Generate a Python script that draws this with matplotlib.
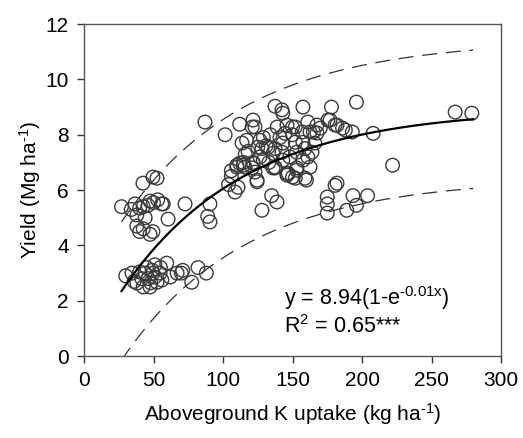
"""
K uptake vs. yield scatter with exponential fit and prediction band.
"""

import numpy as np
import matplotlib
matplotlib.use("Agg")
import matplotlib.pyplot as plt

plt.rcParams["font.family"] = ["Liberation Sans", "DejaVu Sans"]
plt.rcParams["axes.unicode_minus"] = False
plt.rcParams["mathtext.default"] = "regular"

HY = "\u2010"  # plain hyphen for superscripts (mathtext turns '-' into a minus)

k_uptake = [
    # low-K, high-yield group
    27, 36.7, 38, 40, 42.4, 49.6, 52.5, 42.6, 46, 47.5, 50, 53, 56, 57, 44,
    60.5, 72.7, 38, 42.6, 49.6, 40, 47.5, 90.6, 89, 90.6, 34,
    # low-K, low-yield group
    34.5, 40, 49, 59.5, 51, 45, 54.7, 62, 71, 70, 77.5, 82, 88, 38, 42.6,
    47.5, 52.5, 41.6, 46, 51, 56, 44, 49.6, 67, 30, 36, 55, 48,
    # main cloud
    87, 101.5, 112, 121.6, 123, 113.7, 117, 110, 114.6, 121.6, 129, 137.4,
    143, 157.5, 110.8, 108.6, 124.5, 135, 138.8, 137.4, 146, 153, 160, 128,
    142.4, 178, 196, 121, 139, 146, 152, 161, 167.6, 175.5, 182, 186, 188,
    193, 162.6, 167.6, 157, 150, 141, 134, 126.6, 125, 132.4, 137.4, 143,
    152, 157.5, 159, 166, 153, 112, 115.8, 121.6, 126.6, 129, 136, 142.4,
    143, 136, 147, 153, 159, 157.5, 162.6, 161, 123, 152, 182, 104, 106,
    116, 131, 148, 165, 170, 177, 180.6, 144.6, 150, 208, 222, 267, 279,
    110, 114.6, 121, 124.5, 137.4, 146, 150, 164, 128, 106, 118, 133,
    # lower right group
    175, 175, 175, 180.6, 189, 193.5, 196, 204,
]
yield_mg = [
    5.4, 5.5, 5.1, 5.35, 6.25, 6.47, 6.43, 5.4, 5.45, 5.6, 5.55, 5.65, 5.5,
    5.5, 5.0, 4.95, 5.5, 4.7, 4.6, 4.5, 4.5, 4.4, 5.5, 5.05, 4.85, 5.3,
    3.0, 3.04, 3.1, 3.36, 3.3, 3.2, 3.0, 2.86, 3.1, 3.0, 2.67, 3.2, 3.0,
    2.64, 2.5, 2.5, 2.67, 2.8, 2.8, 2.86, 2.75, 3.0, 3.0, 3.0, 2.9, 2.7,
    3.2, 2.65,
    8.46, 8.0, 8.38, 8.53, 8.28, 7.7, 7.8, 6.83, 6.9, 6.97, 7.9, 9.03,
    8.78, 9.0, 6.1, 5.93, 6.3, 5.8, 5.57, 6.83, 6.6, 6.72, 6.36, 5.27,
    8.9, 9.0, 9.18, 8.28, 8.28, 8.35, 8.28, 8.46, 8.35, 8.53, 8.35, 8.24,
    8.17, 8.1, 8.1, 8.06, 8.1, 8.0, 7.9, 8.0, 7.8, 7.55, 7.55, 7.5, 7.7,
    7.73, 7.73, 7.5, 7.7, 7.37, 6.97, 6.83, 7.0, 7.2, 7.08, 7.33, 7.37,
    7.08, 6.8, 6.6, 6.8, 6.43, 7.08, 6.83, 7.2, 6.65, 6.43, 6.25, 6.2, 6.5,
    7.3, 7.6, 7.2, 8.1, 8.24, 8.53, 8.35, 8.05, 8.28, 8.05, 6.9, 8.82, 8.78,
    6.9, 7.0, 6.8, 6.36, 6.8, 6.54, 6.47, 7.37, 7.5, 6.7, 7.4, 7.0,
    5.75, 5.17, 5.5, 6.17, 5.27, 5.8, 5.45, 5.8,
]

# fitted model y = a(1 - exp(-b x)) and half-width of the dashed band
fit_a = 8.94
fit_b = 0.0113
band_half = 2.5
fit_range = (27, 280)

x_ticks = [0, 50, 100, 150, 200, 250, 300]
y_ticks = [0, 2, 4, 6, 8, 10, 12]


def main():
    fig = plt.figure(figsize=(5.23, 4.38), dpi=100)
    ax = fig.add_axes([0.1606, 0.187, 0.7974, 0.758])

    ax.scatter(k_uptake, yield_mg, s=96, facecolors="none", edgecolors="#3a3a3a",
               linewidths=1.0, zorder=2)

    xs = np.linspace(fit_range[0], fit_range[1], 300)
    ys = fit_a * (1 - np.exp(-fit_b * xs))
    ax.plot(xs, ys, color="black", linewidth=1.6, zorder=3)
    ax.plot(xs, ys + band_half, color="#333333", linewidth=0.9,
            dashes=(12, 7), zorder=3)
    ax.plot(xs, ys - band_half, color="#333333", linewidth=0.9,
            dashes=(12, 7), zorder=3)

    ax.text(144, 2.08, "y = 8.94(1-e$^{" + HY + "0.01x}$)", fontsize=15.5,
            va="center", ha="left")
    ax.text(144, 1.05, "R$^{2}$ = 0.65***", fontsize=15.5,
            va="center", ha="left")

    ax.set_xlim(0, 300)
    ax.set_ylim(0, 12)
    ax.set_xticks(x_ticks)
    ax.set_yticks(y_ticks)
    ax.tick_params(direction="out", length=5, width=1, labelsize=15,
                   color="#333333", pad=6)
    for sp in ax.spines.values():
        sp.set_color("#555555")
        sp.set_linewidth(1)

    ax.set_xlabel("Aboveground K uptake (kg ha$^{" + HY + "1}$)", fontsize=15,
                  labelpad=8)
    ax.set_ylabel("Yield (Mg ha$^{" + HY + "1}$)", fontsize=15, labelpad=2)

    fig.savefig("out.png", dpi=100)
    plt.close(fig)


if __name__ == "__main__":
    main()
